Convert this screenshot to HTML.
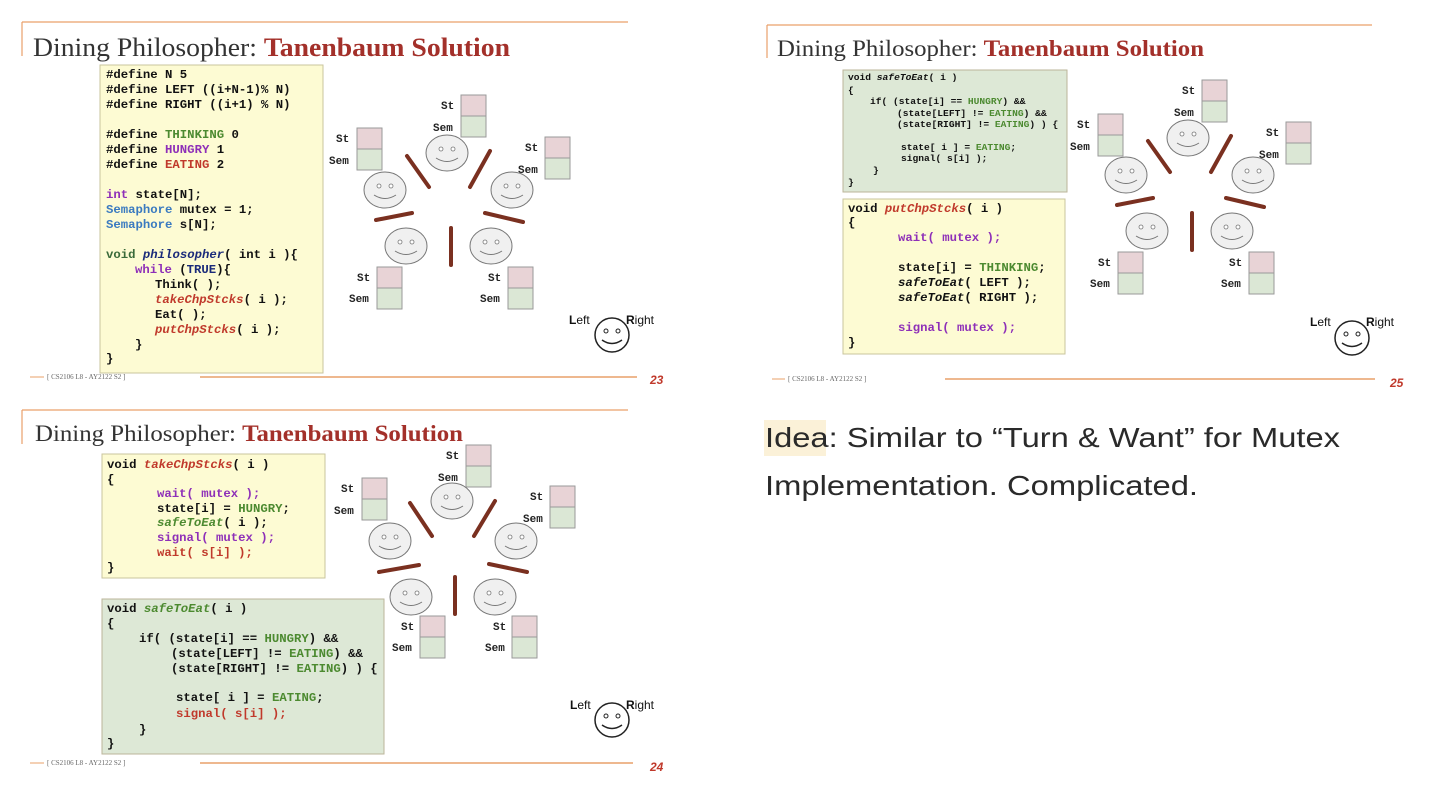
<!DOCTYPE html>
<html><head><meta charset="utf-8"><style>
html,body{margin:0;padding:0;background:#fff;}
svg{display:block;}
.t{font-family:"Liberation Serif",serif;fill:#333;}
.tr{fill:#a3302a;font-weight:bold;}
.c{font-family:"Liberation Mono",monospace;font-weight:bold;fill:#111;font-size:12.3px;}
.cs{font-family:"Liberation Mono",monospace;font-weight:bold;fill:#111;font-size:9.6px;}
.l{font-family:"Liberation Mono",monospace;font-weight:bold;fill:#222;font-size:11px;}
.g{fill:#4c8a30}.p{fill:#8e2fb8}.r{fill:#c0392b}.b{fill:#3a7ac0}.i{font-style:italic}.db{fill:#1a2a7a}.vg{fill:#3a6a3a}
.ft{font-family:"Liberation Serif",serif;font-size:7px;fill:#666;}
.pn{font-family:"Liberation Sans",sans-serif;font-weight:bold;font-style:italic;font-size:12px;fill:#c0392b;}
.lr{font-family:"Liberation Sans",sans-serif;font-size:12px;fill:#111;}
</style></head><body>
<svg width="1438" height="796" viewBox="0 0 1438 796" xmlns="http://www.w3.org/2000/svg">
<defs>
<g id="face"><ellipse cx="0" cy="0" rx="21" ry="18" fill="#f0f0f0" stroke="#777" stroke-width="1"/><circle cx="-6" cy="-4" r="2" fill="#fff" stroke="#777" stroke-width="0.8"/><circle cx="6" cy="-4" r="2" fill="#fff" stroke="#777" stroke-width="0.8"/><path d="M-11 5 Q0 12 11 5" fill="none" stroke="#777" stroke-width="1"/></g>
<g id="box"><rect x="0" y="0" width="25" height="21" fill="#e8d3d6" stroke="#999"/><rect x="0" y="21" width="25" height="21" fill="#dbe7d5" stroke="#999"/></g>
<g id="lface"><circle cx="0" cy="0" r="17" fill="#fff" stroke="#222" stroke-width="1.5"/><circle cx="-6" cy="-4" r="2" fill="#fff" stroke="#222"/><circle cx="6" cy="-4" r="2" fill="#fff" stroke="#222"/><path d="M-10 5 Q0 12 10 5" fill="none" stroke="#222" stroke-width="1.5"/></g>
</defs>

<!-- ===== Slide 23 ===== -->
<line x1="22" y1="22" x2="628" y2="22" stroke="#e9a06a" stroke-width="1.2"/>
<line x1="22" y1="22" x2="22" y2="56" stroke="#e9a06a" stroke-width="1.2"/>
<text class="t" x="33" y="56" font-size="26" textLength="477" lengthAdjust="spacingAndGlyphs">Dining Philosopher: <tspan class="tr">Tanenbaum Solution</tspan></text>
<rect x="100" y="65" width="223" height="308" fill="#fdfbd3" stroke="#c9c49e"/>
<text class="c" x="106" y="78">#define N 5</text>
<text class="c" x="106" y="93">#define LEFT ((i+N-1)% N)</text>
<text class="c" x="106" y="108">#define RIGHT ((i+1) % N)</text>
<text class="c" x="106" y="138">#define <tspan class="g">THINKING</tspan> 0</text>
<text class="c" x="106" y="153">#define <tspan class="p">HUNGRY</tspan> 1</text>
<text class="c" x="106" y="168">#define <tspan class="r">EATING</tspan> 2</text>
<text class="c" x="106" y="198"><tspan class="p">int</tspan> state[N];</text>
<text class="c" x="106" y="213"><tspan class="b">Semaphore</tspan> mutex = 1;</text>
<text class="c" x="106" y="228"><tspan class="b">Semaphore</tspan> s[N];</text>
<text class="c" x="106" y="258"><tspan class="vg">void</tspan> <tspan class="i db">philosopher</tspan>( int i ){</text>
<text class="c" x="135" y="273"><tspan class="p">while</tspan> (<tspan class="db">TRUE</tspan>){</text>
<text class="c" x="155" y="288">Think( );</text>
<text class="c" x="155" y="303"><tspan class="i r">takeChpStcks</tspan>( i );</text>
<text class="c" x="155" y="318">Eat( );</text>
<text class="c" x="155" y="333"><tspan class="i r">putChpStcks</tspan>( i );</text>
<text class="c" x="135" y="348">}</text>
<text class="c" x="106" y="362">}</text>

<g>
<use href="#box" x="461" y="95"/><text class="l" x="441" y="109">St</text><text class="l" x="433" y="131">Sem</text>
<use href="#box" x="357" y="128"/><text class="l" x="336" y="142">St</text><text class="l" x="329" y="164">Sem</text>
<use href="#box" x="545" y="137"/><text class="l" x="525" y="151">St</text><text class="l" x="518" y="173">Sem</text>
<use href="#box" x="377" y="267"/><text class="l" x="357" y="281">St</text><text class="l" x="349" y="302">Sem</text>
<use href="#box" x="508" y="267"/><text class="l" x="488" y="281">St</text><text class="l" x="480" y="302">Sem</text>
<use href="#face" x="447" y="153"/><use href="#face" x="385" y="190"/><use href="#face" x="512" y="190"/><use href="#face" x="406" y="246"/><use href="#face" x="491" y="246"/>
<g stroke="#7a3020" stroke-width="4" stroke-linecap="round">
<line x1="407" y1="156" x2="429" y2="187"/><line x1="470" y1="187" x2="490" y2="151"/><line x1="376" y1="220" x2="412" y2="213"/><line x1="485" y1="213" x2="523" y2="222"/><line x1="451" y1="228" x2="451" y2="265"/>
</g>
<text class="lr" x="569" y="324"><tspan font-weight="bold">L</tspan>eft</text><text class="lr" x="626" y="324"><tspan font-weight="bold">R</tspan>ight</text>
<use href="#lface" x="612" y="335"/>
</g>
<line x1="30" y1="377" x2="44" y2="377" stroke="#e9a06a"/>
<text class="ft" x="47" y="379">[ CS2106 L8 - AY2122 S2 ]</text>
<line x1="200" y1="377" x2="637" y2="377" stroke="#e9a06a" stroke-width="1.5"/>
<text class="pn" x="650" y="384">23</text>

<!-- ===== Slide 25 ===== -->
<line x1="767" y1="25" x2="1372" y2="25" stroke="#e9a06a" stroke-width="1.2"/>
<line x1="767" y1="25" x2="767" y2="58" stroke="#e9a06a" stroke-width="1.2"/>
<text class="t" x="777" y="56" font-size="23" textLength="427" lengthAdjust="spacingAndGlyphs">Dining Philosopher: <tspan class="tr">Tanenbaum Solution</tspan></text>
<rect x="843" y="70" width="224" height="122" fill="#dde8d6" stroke="#bbb59a"/>
<text class="cs" x="848" y="80">void <tspan class="i">safeToEat</tspan>( i )</text>
<text class="cs" x="848" y="93">{</text>
<text class="cs" x="870" y="104">if( (state[i] == <tspan class="g">HUNGRY</tspan>) &amp;&amp;</text>
<text class="cs" x="897" y="116">(state[LEFT] != <tspan class="g">EATING</tspan>) &amp;&amp;</text>
<text class="cs" x="897" y="127">(state[RIGHT] != <tspan class="g">EATING</tspan>) ) {</text>
<text class="cs" x="901" y="150">state[ i ] = <tspan class="g">EATING</tspan>;</text>
<text class="cs" x="901" y="161">signal( s[i] );</text>
<text class="cs" x="873" y="173">}</text>
<text class="cs" x="848" y="185">}</text>
<rect x="843" y="199" width="222" height="155" fill="#fdfbd3" stroke="#c9c49e"/>
<text class="c" x="848" y="212">void <tspan class="i r">putChpStcks</tspan>( i )</text>
<text class="c" x="848" y="226">{</text>
<text class="c" x="898" y="241"><tspan class="p">wait( mutex );</tspan></text>
<text class="c" x="898" y="271">state[i] = <tspan class="g">THINKING</tspan>;</text>
<text class="c" x="898" y="286"><tspan class="i">safeToEat</tspan>( LEFT );</text>
<text class="c" x="898" y="301"><tspan class="i">safeToEat</tspan>( RIGHT );</text>
<text class="c" x="898" y="331"><tspan class="p">signal( mutex );</tspan></text>
<text class="c" x="848" y="346">}</text>
<g transform="translate(741,-15)">
<use href="#box" x="461" y="95"/><text class="l" x="441" y="109">St</text><text class="l" x="433" y="131">Sem</text>
<use href="#box" x="357" y="129"/><text class="l" x="336" y="143">St</text><text class="l" x="329" y="165">Sem</text>
<use href="#box" x="545" y="137"/><text class="l" x="525" y="151">St</text><text class="l" x="518" y="173">Sem</text>
<use href="#box" x="377" y="267"/><text class="l" x="357" y="281">St</text><text class="l" x="349" y="302">Sem</text>
<use href="#box" x="508" y="267"/><text class="l" x="488" y="281">St</text><text class="l" x="480" y="302">Sem</text>
<use href="#face" x="447" y="153"/><use href="#face" x="385" y="190"/><use href="#face" x="512" y="190"/><use href="#face" x="406" y="246"/><use href="#face" x="491" y="246"/>
<g stroke="#7a3020" stroke-width="4" stroke-linecap="round">
<line x1="407" y1="156" x2="429" y2="187"/><line x1="470" y1="187" x2="490" y2="151"/><line x1="376" y1="220" x2="412" y2="213"/><line x1="485" y1="213" x2="523" y2="222"/><line x1="451" y1="228" x2="451" y2="265"/>
</g>
</g>
<text class="lr" x="1310" y="326"><tspan font-weight="bold">L</tspan>eft</text><text class="lr" x="1366" y="326"><tspan font-weight="bold">R</tspan>ight</text>
<use href="#lface" x="1352" y="338"/>
<line x1="772" y1="379" x2="785" y2="379" stroke="#e9a06a"/>
<text class="ft" x="788" y="381">[ CS2106 L8 - AY2122 S2 ]</text>
<line x1="945" y1="379" x2="1375" y2="379" stroke="#e9a06a" stroke-width="1.5"/>
<text class="pn" x="1390" y="387">25</text>

<!-- ===== Slide 24 ===== -->
<line x1="22" y1="410" x2="628" y2="410" stroke="#e9a06a" stroke-width="1.2"/>
<line x1="22" y1="410" x2="22" y2="444" stroke="#e9a06a" stroke-width="1.2"/>
<text class="t" x="35" y="441" font-size="23" textLength="428" lengthAdjust="spacingAndGlyphs">Dining Philosopher: <tspan class="tr">Tanenbaum Solution</tspan></text>
<rect x="102" y="454" width="223" height="124" fill="#fdfbd3" stroke="#c9c49e"/>
<text class="c" x="107" y="468">void <tspan class="i r">takeChpStcks</tspan>( i )</text>
<text class="c" x="107" y="483">{</text>
<text class="c" x="157" y="497"><tspan class="p">wait( mutex );</tspan></text>
<text class="c" x="157" y="512">state[i] = <tspan class="g">HUNGRY</tspan>;</text>
<text class="c" x="157" y="526"><tspan class="i g">safeToEat</tspan>( i );</text>
<text class="c" x="157" y="541"><tspan class="p">signal( mutex );</tspan></text>
<text class="c" x="157" y="556"><tspan class="r">wait( s[i] );</tspan></text>
<text class="c" x="107" y="571">}</text>
<rect x="102" y="599" width="282" height="155" fill="#dde8d6" stroke="#bbb59a"/>
<text class="c" x="107" y="612">void <tspan class="i g">safeToEat</tspan>( i )</text>
<text class="c" x="107" y="627">{</text>
<text class="c" x="139" y="642">if( (state[i] == <tspan class="g">HUNGRY</tspan>) &amp;&amp;</text>
<text class="c" x="171" y="657">(state[LEFT] != <tspan class="g">EATING</tspan>) &amp;&amp;</text>
<text class="c" x="171" y="672">(state[RIGHT] != <tspan class="g">EATING</tspan>) ) {</text>
<text class="c" x="176" y="701">state[ i ] = <tspan class="g">EATING</tspan>;</text>
<text class="c" x="176" y="717"><tspan class="r">signal( s[i] );</tspan></text>
<text class="c" x="139" y="733">}</text>
<text class="c" x="107" y="747">}</text>
<g transform="translate(5,350)">
<use href="#box" x="461" y="95"/><text class="l" x="441" y="109">St</text><text class="l" x="433" y="131">Sem</text>
<use href="#box" x="357" y="128"/><text class="l" x="336" y="142">St</text><text class="l" x="329" y="164">Sem</text>
<use href="#box" x="545" y="136"/><text class="l" x="525" y="150">St</text><text class="l" x="518" y="172">Sem</text>
<use href="#box" x="415" y="266"/><text class="l" x="396" y="280">St</text><text class="l" x="387" y="301">Sem</text>
<use href="#box" x="507" y="266"/><text class="l" x="488" y="280">St</text><text class="l" x="480" y="301">Sem</text>
<use href="#face" x="447" y="151"/><use href="#face" x="385" y="191"/><use href="#face" x="511" y="191"/><use href="#face" x="406" y="247"/><use href="#face" x="490" y="247"/>
<g stroke="#7a3020" stroke-width="4" stroke-linecap="round">
<line x1="405" y1="153" x2="427" y2="186"/><line x1="469" y1="186" x2="490" y2="151"/><line x1="374" y1="222" x2="414" y2="215"/><line x1="484" y1="214" x2="522" y2="222"/><line x1="450" y1="227" x2="450" y2="264"/>
</g>
</g>
<text class="lr" x="570" y="709"><tspan font-weight="bold">L</tspan>eft</text><text class="lr" x="626" y="709"><tspan font-weight="bold">R</tspan>ight</text>
<use href="#lface" x="612" y="720"/>
<line x1="30" y1="763" x2="44" y2="763" stroke="#e9a06a"/>
<text class="ft" x="47" y="765">[ CS2106 L8 - AY2122 S2 ]</text>
<line x1="200" y1="763" x2="633" y2="763" stroke="#e9a06a" stroke-width="1.5"/>
<text class="pn" x="650" y="771">24</text>

<!-- ===== Text ===== -->
<rect x="764" y="420" width="62" height="36" fill="#fbf1d8"/>
<text x="765" y="447" font-family="Liberation Sans, sans-serif" font-size="28" fill="#2a2a2a" textLength="575" lengthAdjust="spacingAndGlyphs">Idea: Similar to “Turn &amp; Want” for Mutex</text>
<text x="765" y="495" font-family="Liberation Sans, sans-serif" font-size="28" fill="#2a2a2a" textLength="433" lengthAdjust="spacingAndGlyphs">Implementation. Complicated.</text>
</svg>
</body></html>
